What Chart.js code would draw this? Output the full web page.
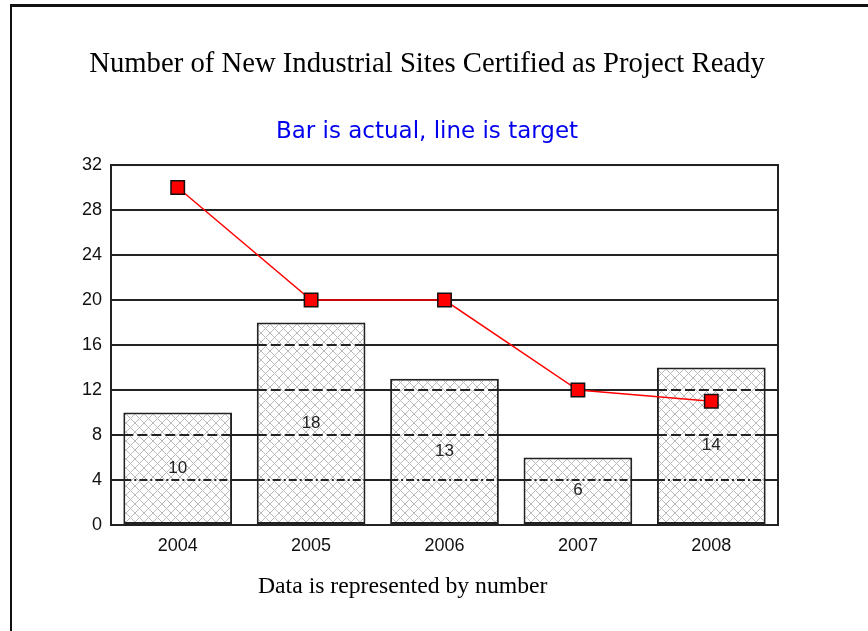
<!DOCTYPE html>
<html>
<head>
<meta charset="utf-8">
<script src="https://cdn.jsdelivr.net/npm/chart.js@4/dist/chart.umd.min.js"></script>
<style>
    html, body { margin: 0; padding: 0; background: #fff; overflow: hidden; }
    #wrap { position: relative; width: 868px; height: 631px; }
    #frame {
        position: absolute; left: 10px; top: 4px; width: 900px; height: 700px;
        border-top: 3px solid #111; border-left: 2px solid #111;
    }
    #chart { position: absolute; left: 0; top: 0; }
    #note {
        position: absolute; left: 258px; top: 572px;
        font: 23.7px "Liberation Serif", "Times New Roman", serif; color: #000;
        white-space: nowrap;
    }
</style>
</head>
<body>
<div id="wrap">
    <div id="frame"></div>
    <canvas id="chart" width="868" height="631"></canvas>
    <div id="note">Data is represented by number</div>
</div>
<script>
// Chart data
const years = ['2004', '2005', '2006', '2007', '2008'];
const actual = [10, 18, 13, 6, 14];
const target = [30, 20, 20, 12, 11];
const yMin = 0;
const yMax = 32;
const yStep = 4;

document.addEventListener('DOMContentLoaded', function() {
    // Cross-hatch fill for the bars
    const tile = document.createElement('canvas');
    tile.width = 9;
    tile.height = 9;
    const tctx = tile.getContext('2d');
    tctx.fillStyle = '#ffffff';
    tctx.fillRect(0, 0, 9, 9);
    tctx.strokeStyle = '#bbbbbb';
    tctx.lineWidth = 1;
    tctx.beginPath();
    tctx.moveTo(0, 0); tctx.lineTo(9, 9);
    tctx.moveTo(0, 9); tctx.lineTo(9, 0);
    tctx.stroke();
    const ctx = document.getElementById('chart').getContext('2d');
    const hatch = ctx.createPattern(tile, 'repeat');

    // Frame around plot, dashed gridlines over bars, value labels
    const barExtras = {
        id: 'barExtras',
        beforeDatasetsDraw(chart) {
            const a = chart.chartArea;
            const c = chart.ctx;
            c.save();
            c.strokeStyle = '#222';
            c.lineWidth = 2;
            c.strokeRect(a.left, a.top, a.right - a.left, a.bottom - a.top);
            c.restore();
        },
        afterDatasetDraw(chart, args) {
            if (args.index !== 0) return;
            const c = chart.ctx;
            const yScale = chart.scales.y;
            const meta = chart.getDatasetMeta(0);
            c.save();
            c.strokeStyle = '#222';
            c.lineWidth = 2;
            meta.data.forEach((bar, i) => {
                const half = bar.width / 2;
                for (let v = yMin + yStep; v < actual[i]; v += yStep) {
                    const y = Math.round(yScale.getPixelForValue(v));
                    c.setLineDash(v === yStep ? [8, 3, 2, 3] : [10, 4]);
                    c.beginPath();
                    c.moveTo(bar.x - half, y);
                    c.lineTo(bar.x + half, y);
                    c.stroke();
                }
            });
            c.setLineDash([]);
            c.fillStyle = '#222';
            c.font = '17px "Liberation Sans", Arial, sans-serif';
            c.textAlign = 'center';
            c.textBaseline = 'middle';
            meta.data.forEach((bar, i) => {
                c.fillText(String(actual[i]), bar.x, (bar.y + bar.base) / 2);
            });
            c.restore();
        }
    };

    new Chart(ctx, {
        data: {
            labels: years,
            datasets: [
                {
                    type: 'bar',
                    label: 'Actual',
                    data: actual,
                    backgroundColor: hatch,
                    borderColor: '#222',
                    borderWidth: 2,
                    borderSkipped: false,
                    barPercentage: 0.815,
                    categoryPercentage: 1,
                    order: 2
                },
                {
                    type: 'line',
                    label: 'Target',
                    data: target,
                    borderColor: '#ff0000',
                    borderWidth: 1.5,
                    tension: 0,
                    pointStyle: 'rect',
                    pointRadius: 9.5,
                    pointBackgroundColor: '#ff0000',
                    pointBorderColor: '#111',
                    pointBorderWidth: 1.5,
                    order: 1
                }
            ]
        },
        options: {
            responsive: false,
            animation: false,
            devicePixelRatio: 1,
            layout: {
                padding: { left: 76, right: 90, top: 0, bottom: 76 }
            },
            plugins: {
                legend: { display: false },
                tooltip: { enabled: false },
                title: {
                    display: true,
                    text: 'Number of New Industrial Sites Certified as Project Ready',
                    color: '#000',
                    font: { family: '"Liberation Serif", "Times New Roman", serif', size: 28.7, weight: 'normal', lineHeight: 1.2 },
                    padding: { top: 47, bottom: 0 }
                },
                subtitle: {
                    display: true,
                    text: 'Bar is actual, line is target',
                    color: '#0000ee',
                    font: { family: '"DejaVu Sans", Verdana, sans-serif', size: 23, weight: 'normal', lineHeight: 1.2 },
                    padding: { top: 36.8, bottom: 19.2 }
                }
            },
            scales: {
                x: {
                    grid: { display: false, drawTicks: false },
                    border: { display: true, color: '#222', width: 2 },
                    ticks: {
                        color: '#111',
                        padding: 10,
                        font: { family: '"Liberation Sans", Arial, sans-serif', size: 18 }
                    },
                    afterFit(scale) { scale.height = 30; }
                },
                y: {
                    min: yMin,
                    max: yMax,
                    grid: { color: '#222', lineWidth: 2, drawTicks: false },
                    border: { display: true, color: '#222', width: 2 },
                    ticks: {
                        stepSize: yStep,
                        color: '#111',
                        padding: 9,
                        font: { family: '"Liberation Sans", Arial, sans-serif', size: 18 }
                    },
                    afterFit(scale) { scale.width = 35; }
                }
            }
        },
        plugins: [barExtras]
    });
});
</script>
</body>
</html>
